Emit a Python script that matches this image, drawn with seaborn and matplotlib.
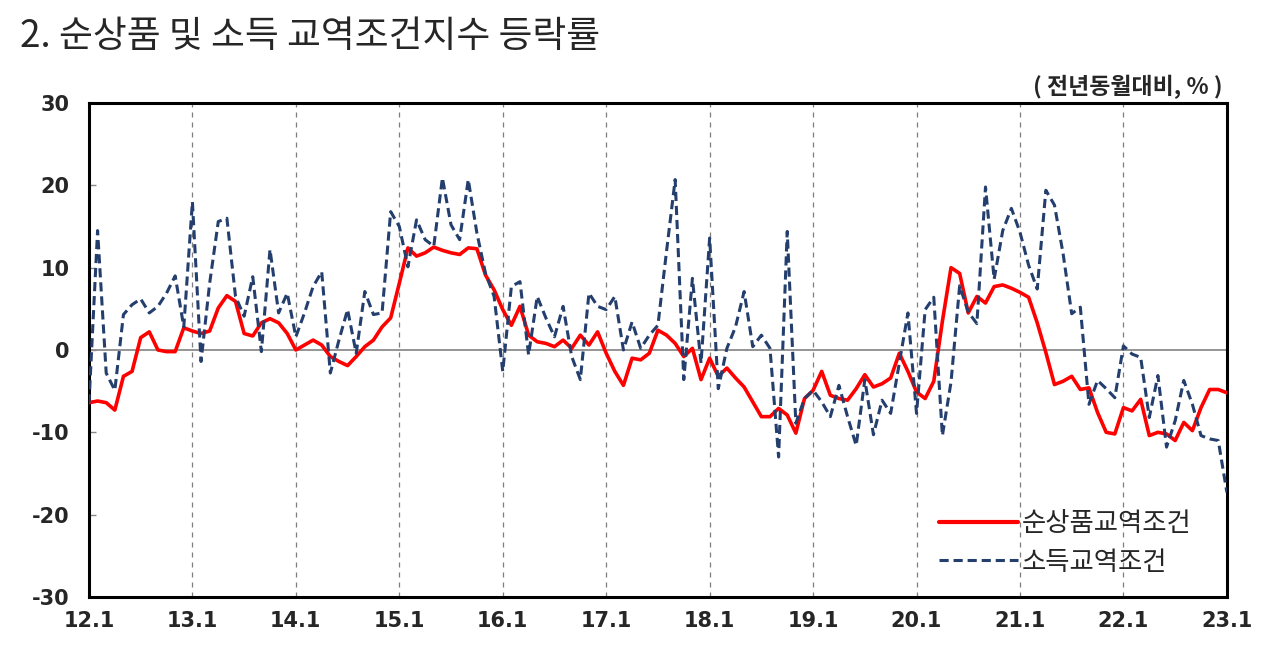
import matplotlib
matplotlib.use("Agg")
import matplotlib.pyplot as plt
import seaborn as sns
import pandas as pd

# monthly values, 2012.1 ~ 2023.1 (전년동월대비, %)
net_barter = [
    -6.4, -6.2, -6.4, -7.3, -3.2, -2.6, 1.5, 2.2, 0.0, -0.2, -0.2, 2.7,
    2.3, 2.0, 2.3, 5.1, 6.6, 5.9, 2.0, 1.7, 3.3, 3.8, 3.3, 2.0,
    0.0, 0.6, 1.2, 0.6, -0.8, -1.4, -1.9, -0.8, 0.4, 1.2, 2.8, 3.9,
    8.1, 12.4, 11.4, 11.8, 12.5, 12.1, 11.8, 11.6, 12.4, 12.3, 9.1, 7.3,
    4.9, 3.0, 5.3, 1.8, 1.0, 0.8, 0.4, 1.2, 0.2, 1.8, 0.6, 2.2,
    -0.4, -2.6, -4.3, -1.0, -1.2, -0.4, 2.4, 1.8, 0.8, -0.8, 0.2, -3.6,
    -1.0, -3.2, -2.2, -3.4, -4.5, -6.3, -8.1, -8.1, -7.1, -7.9, -10.1, -5.9,
    -4.9, -2.6, -5.5, -5.9, -6.1, -4.7, -3.0, -4.5, -4.1, -3.4, -0.4, -2.6,
    -5.1, -5.9, -3.8, 3.5, 10.0, 9.3, 4.5, 6.5, 5.7, 7.7, 7.9, 7.5,
    7.0, 6.4, 3.3, -0.3, -4.2, -3.8, -3.2, -4.8, -4.6, -7.6, -10.0, -10.2,
    -7.0, -7.4, -6.0, -10.4, -10.0, -10.2, -11.0, -8.8, -9.8, -7.0, -4.8, -4.8,
    -5.2,
]
income = [
    -6.5, 14.5, -2.8, -4.9, 4.3, 5.5, 6.2, 4.5, 5.3, 6.9, 9.0, 2.8,
    18.0, -1.4, 8.1, 15.6, 16.0, 6.5, 4.1, 8.9, -0.2, 12.2, 4.5, 6.9,
    1.6, 4.5, 7.7, 9.5, -2.8, 1.2, 4.9, -0.4, 7.1, 4.3, 4.5, 16.8,
    15.0, 10.1, 15.8, 13.4, 12.6, 20.9, 15.2, 13.4, 20.7, 14.2, 9.3, 6.5,
    -2.6, 7.7, 8.3, -0.6, 6.5, 3.9, 1.6, 5.3, -0.8, -3.6, 6.9, 5.3,
    4.9, 6.5, 0.0, 3.4, 0.2, 1.8, 3.0, 12.0, 20.7, -3.6, 8.7, -1.6,
    13.6, -4.7, 0.2, 2.8, 7.1, 0.4, 1.8, 0.2, -13.0, 14.4, -8.9, -5.9,
    -4.9, -6.3, -8.1, -4.3, -8.1, -11.6, -3.6, -10.3, -6.1, -7.7, -1.6, 4.5,
    -7.7, 4.9, 6.4, -10.4, -3.9, 7.8, 4.6, 3.2, 19.8, 8.6, 14.5, 17.2,
    14.3, 10.3, 7.4, 19.4, 17.6, 11.7, 4.4, 5.2, -6.6, -3.7, -4.7, -5.8,
    0.5, -0.5, -0.9, -8.2, -3.1, -11.8, -8.6, -3.7, -6.6, -10.4, -10.8, -11.0,
    -17.3,
]
year_labels = ["12.1", "13.1", "14.1", "15.1", "16.1", "17.1",
               "18.1", "19.1", "20.1", "21.1", "22.1", "23.1"]
y_ticks = [30, 20, 10, 0, -10, -20, -30]

RED = "#ff0000"
NAVY = "#243f6e"

sns.set_style("white")
plt.rcParams['font.family'] = ['Noto Sans CJK KR', 'DejaVu Sans']

months = list(range(len(net_barter)))
df = pd.DataFrame({
    "month": months * 2,
    "value": net_barter + income,
    "series": ["순상품교역조건"] * len(months) + ["소득교역조건"] * len(months),
})

fig = plt.figure(figsize=(12.8, 6.56), dpi=100)
ax = fig.add_axes([0.0695, 0.09, 0.889, 0.753])

# year gridlines and zero line
for k in range(1, len(year_labels) - 1):
    ax.axvline(k * 12, color="#7f7f7f", linestyle=(0, (4, 4)), linewidth=0.9, zorder=1)
ax.axhline(0, color="#8c8c8c", linewidth=1.3, zorder=1)

sns.lineplot(data=df, x="month", y="value", hue="series", style="series",
             palette={"순상품교역조건": RED, "소득교역조건": NAVY},
             dashes={"순상품교역조건": "", "소득교역조건": (3, 1.6)},
             ax=ax, zorder=3)
for ln in ax.get_lines():
    if ln.get_color() == RED:
        ln.set_linewidth(2.6)
    elif ln.get_color() == NAVY:
        ln.set_linewidth(2.2)

ax.set_xlim(0, 132)
ax.set_ylim(-30, 30)
ax.set_xticks([k * 12 for k in range(len(year_labels))])
ax.set_xticklabels(year_labels, fontsize=15, fontweight="bold", family="DejaVu Sans")
ax.set_yticks(y_ticks)
ax.set_yticklabels([str(v) for v in y_ticks], fontsize=15, fontweight="bold", family="DejaVu Sans")
ax.tick_params(axis="x", length=0, pad=10)
ax.tick_params(axis="y", direction="in", length=5, width=1, color="#888888", pad=14, left=True)
ax.set_xlabel("")
ax.set_ylabel("")
for sp in ax.spines.values():
    sp.set_color("black")
    sp.set_linewidth(2.2)

handles, labels = ax.get_legend_handles_labels()
for h in handles:
    h.set_linewidth(3 if h.get_color() == RED else 2.2)
ax.legend(handles, labels, loc="lower right", bbox_to_anchor=(0.99, -0.005),
          frameon=False, fontsize=19, handlelength=3.0, handletextpad=0.15,
          labelspacing=0.45)

fig.text(0.016, 0.945, "2. 순상품 및 소득 교역조건지수 등락률", fontsize=26.5,
         va="center", ha="left")
fig.text(0.955, 0.868, "( 전년동월대비, % )", fontsize=16.5, fontweight="bold",
         va="center", ha="right")

fig.savefig("out.png", dpi=100)
